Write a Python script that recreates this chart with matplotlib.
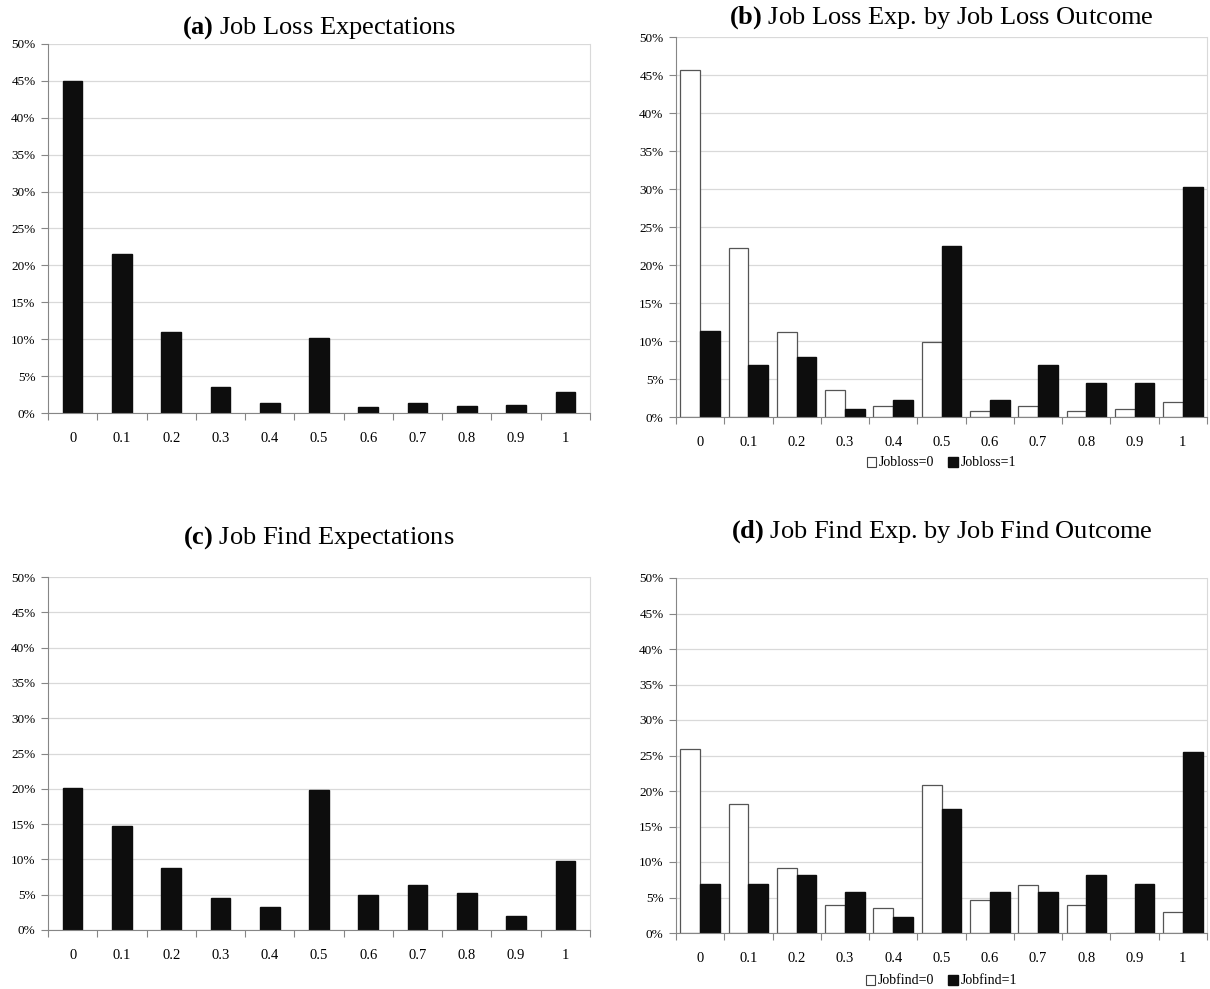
import matplotlib
matplotlib.use("Agg")
import matplotlib.pyplot as plt
from matplotlib.patches import Rectangle
import numpy as np

plt.rcParams['font.family'] = ['Liberation Serif', 'DejaVu Serif']
plt.rcParams['mathtext.fontset'] = 'custom'
plt.rcParams['mathtext.rm'] = 'Liberation Serif'
plt.rcParams['mathtext.bf'] = 'Liberation Serif:bold'

categories = ["0", "0.1", "0.2", "0.3", "0.4", "0.5", "0.6", "0.7", "0.8", "0.9", "1"]
ytick_labels = ["0%", "5%", "10%", "15%", "20%", "25%", "30%", "35%", "40%", "45%", "50%"]

jobloss_all = [45.0, 21.5, 11.0, 3.5, 1.4, 10.2, 0.8, 1.4, 0.9, 1.1, 2.9]
jobloss_0 = [45.7, 22.3, 11.2, 3.6, 1.4, 9.9, 0.8, 1.4, 0.8, 1.0, 2.0]
jobloss_1 = [11.3, 6.8, 7.9, 1.1, 2.3, 22.5, 2.3, 6.8, 4.5, 4.5, 30.3]

jobfind_all = [20.1, 14.8, 8.8, 4.5, 3.2, 19.8, 4.9, 6.4, 5.3, 2.0, 9.8]
jobfind_0 = [25.9, 18.2, 9.2, 4.0, 3.5, 20.9, 4.6, 6.7, 4.0, 0.0, 3.0]
jobfind_1 = [6.9, 6.9, 8.1, 5.8, 2.3, 17.4, 5.8, 5.8, 8.1, 6.9, 25.5]

W, H = 1210, 989
fig = plt.figure(figsize=(W / 100, H / 100), dpi=100)

def add_ax(l, r, t, b):
    return fig.add_axes([l / W, 1 - b / H, (r - l) / W, (b - t) / H])

axA = add_ax(48, 590, 44, 413)
axB = add_ax(676, 1207, 37, 417)
axC = add_ax(48, 590, 577, 930)
axD = add_ax(676, 1207, 578, 933)

BLACK = '#0d0d0d'
GRID = '#d9d9d9'
AXIS = '#868686'

def style(ax):
    n = len(categories)
    x = np.arange(n)
    ax.set_xlim(-0.5, n - 0.5)
    ax.set_ylim(0, 50)
    ax.set_yticks(np.arange(0, 51, 5))
    ax.set_yticklabels(ytick_labels, fontsize=9.5)
    ax.set_xticks(np.arange(-0.5, n, 1.0))
    ax.set_xticklabels([])
    ax.set_xticks(x, minor=True)
    ax.set_xticklabels(categories, minor=True, fontsize=10.5)
    ax.tick_params(axis='x', which='major', length=5, color=AXIS, direction='out')
    ax.tick_params(axis='x', which='minor', length=0, pad=14)
    ax.tick_params(axis='y', length=5, color=AXIS, direction='out', pad=4)
    ax.yaxis.grid(True, color=GRID, linewidth=0.9)
    ax.set_axisbelow(True)
    ax.spines['top'].set_visible(False)
    ax.spines['right'].set_color(GRID)
    ax.spines['left'].set_color(AXIS)
    ax.spines['bottom'].set_color(AXIS)
    return x

def title(ax, letter, text, y):
    bb = ax.get_position()
    cx = (bb.x0 + bb.x1) / 2
    fig.text(cx, 1 - y / H, r"$\mathbf{(" + letter + r")}$" + " " + text,
             ha='center', va='center', fontsize=19)

x = style(axA)
axA.bar(x, jobloss_all, width=0.4, color=BLACK, edgecolor=BLACK)
x = style(axC)
axC.bar(x, jobfind_all, width=0.4, color=BLACK, edgecolor=BLACK)

bw = 0.41
x = style(axB)
axB.bar(x - bw / 2, jobloss_0, width=bw, color='white', edgecolor='#555555', linewidth=0.9)
axB.bar(x + bw / 2, jobloss_1, width=bw, color=BLACK, edgecolor=BLACK)
x = style(axD)
axD.bar(x - bw / 2, jobfind_0, width=bw, color='white', edgecolor='#555555', linewidth=0.9)
axD.bar(x + bw / 2, jobfind_1, width=bw, color=BLACK, edgecolor=BLACK)

def legend(ax, labels, y):
    handles = [Rectangle((0, 0), 1, 1, facecolor='white', edgecolor='#444444', linewidth=0.8),
               Rectangle((0, 0), 1, 1, facecolor=BLACK, edgecolor=BLACK)]
    bb = ax.get_position()
    cx = (bb.x0 + bb.x1) / 2
    fig.legend(handles, labels, loc='center', bbox_to_anchor=(cx, 1 - y / H),
               ncol=2, frameon=False, fontsize=10, handlelength=0.7, handleheight=0.7,
               handletextpad=0.2, columnspacing=1.0)

legend(axB, ["Jobloss=0", "Jobloss=1"], 463)
legend(axD, ["Jobfind=0", "Jobfind=1"], 981)

title(axA, "a", "Job Loss Expectations", 28)
title(axB, "b", "Job Loss Exp. by Job Loss Outcome", 18)
title(axC, "c", "Job Find Expectations", 538)
title(axD, "d", "Job Find Exp. by Job Find Outcome", 532)

fig.savefig("out.png", dpi=100)
